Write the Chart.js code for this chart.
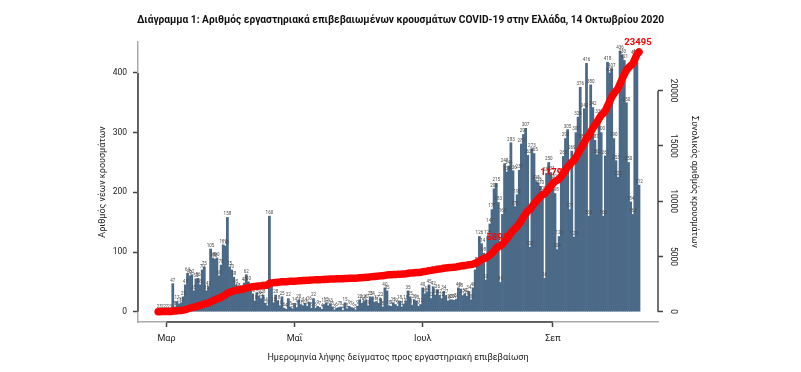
<!DOCTYPE html>
<html lang="el">
<head>
<meta charset="utf-8">
<script src="https://cdn.jsdelivr.net/npm/chart.js@4.4.0/dist/chart.umd.min.js"></script>
<title>Κρούσματα COVID-19</title>
<style>
  html, body { margin: 0; padding: 0; background: #fff; }
</style>
</head>
<body>
<canvas id="chart" width="801" height="372"></canvas>
<script>
// day 0 = 1 Mar 2020, the first bar is 26 Feb (day -4)
const firstDay = -4;

// new cases per sampling day
const daily = [
  2, 3, 2, 2,
  2, 2, 3, 47, 8, 17, 13,
  15, 25, 45, 64, 60, 62, 35,
  55, 56, 45, 70, 75, 35, 42,
  105, 90, 88, 90, 60, 78, 112,
  110, 158, 75, 70, 58, 45, 38,
  35, 32, 48, 62, 50, 35, 30,
  18, 32, 26, 22, 28, 14, 10,
  160, 45, 15, 28, 18, 10, 25,
  6, 4, 22, 8, 5, 14, 7,
  20, 12, 10, 14, 9, 16, 6,
  22, 6, 9, 7, 4, 12, 15,
  10, 13, 8, 3, 6, 7, 8,
  2, 15, 5, 9, 7, 6, 3,
  9, 20, 14, 18, 20, 10, 25,
  24, 16, 17, 14, 22, 8, 40,
  35, 10, 9, 15, 12, 9, 18,
  8, 13, 18, 35, 25, 11, 20,
  18, 9, 12, 40, 30, 33, 45,
  22, 42, 28, 36, 27, 22, 34,
  27, 18, 20, 20, 19, 21, 40,
  38, 27, 30, 26, 34, 20, 40,
  70, 81, 126, 114, 98, 53, 126,
  147, 171, 206, 215, 183, 49, 163,
  248, 234, 244, 283, 236, 176, 196,
  237, 281, 297, 307, 262, 108, 273,
  265, 218, 216, 210, 200, 56, 232,
  250, 233, 220, 198, 104, 126, 230,
  260, 290, 305, 171, 269, 125, 300,
  326, 376, 288, 340, 416, 160, 380,
  342, 287, 263, 330, 300, 160, 261,
  418, 400, 407, 290, 253, 225, 436,
  430, 421, 350, 250, 184, 163, 428,
  429, 212
];

// total cases (right axis)
const cumulative = [
  2, 5, 7, 9,
  11, 13, 16, 63, 71, 88, 101,
  116, 141, 186, 250, 310, 372, 407,
  462, 518, 563, 633, 708, 743, 785,
  890, 980, 1068, 1158, 1218, 1296, 1408,
  1518, 1676, 1751, 1821, 1879, 1924, 1962,
  1997, 2029, 2077, 2139, 2189, 2224, 2254,
  2272, 2304, 2330, 2352, 2380, 2394, 2404,
  2564, 2609, 2624, 2652, 2670, 2680, 2705,
  2711, 2715, 2737, 2745, 2750, 2764, 2771,
  2791, 2803, 2813, 2827, 2836, 2852, 2858,
  2880, 2886, 2895, 2902, 2906, 2918, 2933,
  2943, 2956, 2964, 2967, 2973, 2980, 2988,
  2990, 3005, 3010, 3019, 3026, 3032, 3035,
  3044, 3064, 3078, 3096, 3116, 3126, 3151,
  3175, 3191, 3208, 3222, 3244, 3252, 3292,
  3327, 3337, 3346, 3361, 3373, 3382, 3400,
  3408, 3421, 3439, 3474, 3499, 3510, 3530,
  3548, 3557, 3569, 3609, 3639, 3672, 3717,
  3739, 3781, 3809, 3845, 3872, 3894, 3928,
  3955, 3973, 3993, 4013, 4032, 4053, 4093,
  4131, 4158, 4188, 4214, 4248, 4268, 4308,
  4378, 4459, 4585, 4699, 4797, 4850, 4976,
  5123, 5294, 5500, 5715, 5898, 5947, 6110,
  6358, 6592, 6836, 7119, 7355, 7531, 7727,
  7964, 8245, 8542, 8849, 9111, 9219, 9492,
  9757, 9975, 10191, 10401, 10601, 10657, 10889,
  11139, 11372, 11592, 11790, 11894, 12020, 12250,
  12510, 12800, 13105, 13276, 13545, 13670, 13970,
  14296, 14672, 14960, 15300, 15716, 15876, 16256,
  16598, 16885, 17148, 17478, 17778, 17938, 18199,
  18617, 19017, 19424, 19714, 19967, 20192, 20628,
  21058, 21479, 21829, 22079, 22263, 22426, 22854,
  23283, 23495
];

// month ticks: days since 1 Mar
const monthTicks = [0, 61, 122, 184];
const monthNames = ['Μαρ', 'Μαΐ', 'Ιουλ', 'Σεπ'];
const leftTicks = [0, 100, 200, 300, 400];
const rightTicks = [0, 5000, 10000, 15000, 20000];

// points of the total line that get a red label
const markedPoints = [162, 189, 229];

const FONT = 'Roboto, "Noto Sans", sans-serif';
Chart.defaults.font.family = FONT;
Chart.defaults.color = '#222';

const barColor = '#4b6a88';
const lineColor = '#ff0000';
const axisDark = '#444';
const axisLight = '#aaa';

// small value labels over the bars and red labels on the line
const valueLabels = {
  id: 'valueLabels',
  afterDatasetDraw(chart, args) {
    if (args.meta.type !== 'bar') return;
    const ctx = chart.ctx;
    ctx.save();
    ctx.font = '4.5px ' + FONT;
    ctx.fillStyle = '#4a4a4a';
    ctx.textAlign = 'center';
    ctx.textBaseline = 'bottom';
    args.meta.data.forEach((bar, i) => {
      ctx.fillText(String(daily[i]), bar.x, bar.y - 1);
    });
    const line = chart.getDatasetMeta(0);
    ctx.font = 'bold 9.5px ' + FONT;
    ctx.fillStyle = lineColor;
    ctx.textBaseline = 'middle';
    markedPoints.forEach(i => {
      const p = line.data[i];
      ctx.fillText(String(cumulative[i]), p.x - 1, p.y - 9);
    });
    ctx.restore();
  }
};

// dark axis segments between first and last tick, rotated right-axis labels
const axisDecor = {
  id: 'axisDecor',
  afterDraw(chart) {
    const ctx = chart.ctx;
    const a = chart.chartArea;
    const {x, y, y1} = chart.scales;
    ctx.save();
    ctx.strokeStyle = axisDark;
    ctx.lineWidth = 1.5;
    ctx.beginPath();
    ctx.moveTo(a.left, y.getPixelForValue(leftTicks[0]));
    ctx.lineTo(a.left, y.getPixelForValue(leftTicks[leftTicks.length - 1]));
    ctx.moveTo(x.getPixelForValue(monthTicks[0]), a.bottom);
    ctx.lineTo(x.getPixelForValue(monthTicks[monthTicks.length - 1]), a.bottom);
    ctx.moveTo(a.right, y1.getPixelForValue(rightTicks[0]));
    ctx.lineTo(a.right, y1.getPixelForValue(rightTicks[rightTicks.length - 1]));
    ctx.stroke();

    ctx.fillStyle = '#222';
    ctx.font = '8.5px ' + FONT;
    ctx.textAlign = 'center';
    ctx.textBaseline = 'middle';
    y1.ticks.forEach(t => {
      ctx.save();
      ctx.translate(a.right + 15, y1.getPixelForValue(t.value));
      ctx.rotate(Math.PI / 2);
      ctx.fillText(String(t.value), 0, 0);
      ctx.restore();
    });
    ctx.restore();
  }
};

new Chart(document.getElementById('chart'), {
  data: {
    datasets: [
      {
        type: 'line',
        label: 'Συνολικός αριθμός κρουσμάτων',
        yAxisID: 'y1',
        order: 0,
        data: cumulative.map((v, i) => ({x: firstDay + i, y: v})),
        borderColor: lineColor,
        borderWidth: 7.5,
        borderCapStyle: 'round',
        borderJoinStyle: 'round',
        pointRadius: 0,
        tension: 0
      },
      {
        type: 'bar',
        label: 'Αριθμός νέων κρουσμάτων',
        yAxisID: 'y',
        order: 1,
        data: daily.map((v, i) => ({x: firstDay + i, y: v})),
        backgroundColor: barColor,
        barPercentage: 1,
        categoryPercentage: 1,
        grouped: false
      }
    ]
  },
  options: {
    responsive: false,
    animation: false,
    devicePixelRatio: 1,
    layout: {padding: 0},
    plugins: {
      legend: {display: false},
      tooltip: {enabled: false},
      title: {
        display: true,
        text: 'Διάγραμμα 1: Αριθμός εργαστηριακά επιβεβαιωμένων κρουσμάτων COVID-19 στην Ελλάδα, 14 Οκτωβρίου 2020',
        color: '#111',
        font: {size: 10.2, weight: 'bold'},
        padding: {top: 14, bottom: 15.76}
      }
    },
    scales: {
      x: {
        type: 'linear',
        offset: false,
        min: -13.57,
        max: 234.05,
        afterBuildTicks: s => { s.ticks = monthTicks.map(v => ({value: v})); },
        afterFit: s => { s.height = 50; },
        ticks: {
          autoSkip: false,
          maxRotation: 0,
          padding: 6,
          font: {size: 9},
          callback: v => monthNames[monthTicks.indexOf(v)]
        },
        grid: {offset: false, drawOnChartArea: false, tickLength: 5, tickColor: axisDark, tickWidth: 1.5},
        border: {display: true, color: axisLight, width: 1.5},
        title: {
          display: true,
          text: 'Ημερομηνία λήψης δείγματος προς εργαστηριακή επιβεβαίωση',
          font: {size: 9},
          padding: {top: 0, bottom: 8.6}
        }
      },
      y: {
        position: 'left',
        min: -17.25,
        max: 451.8,
        afterBuildTicks: s => { s.ticks = leftTicks.map(v => ({value: v})); },
        afterFit: s => { s.width = 138; },
        ticks: {padding: 6, font: {size: 8.5}},
        grid: {drawOnChartArea: false, tickLength: 5, tickColor: axisDark, tickWidth: 1.5},
        border: {display: true, color: axisLight, width: 1.5},
        title: {
          display: true,
          text: 'Αριθμός νέων κρουσμάτων',
          font: {size: 9},
          padding: {top: 97.6, bottom: 0}
        }
      },
      y1: {
        position: 'right',
        min: -932,
        max: 24407,
        afterBuildTicks: s => { s.ticks = rightTicks.map(v => ({value: v})); },
        afterFit: s => { s.width = 143; },
        ticks: {display: false},
        grid: {drawOnChartArea: false, tickLength: 5, tickColor: axisDark, tickWidth: 1.5},
        border: {display: false},
        title: {
          display: true,
          text: 'Συνολικός αριθμός κρουσμάτων',
          font: {size: 9},
          padding: {top: 101.6, bottom: 0}
        }
      }
    }
  },
  plugins: [valueLabels, axisDecor]
});
</script>
</body>
</html>
